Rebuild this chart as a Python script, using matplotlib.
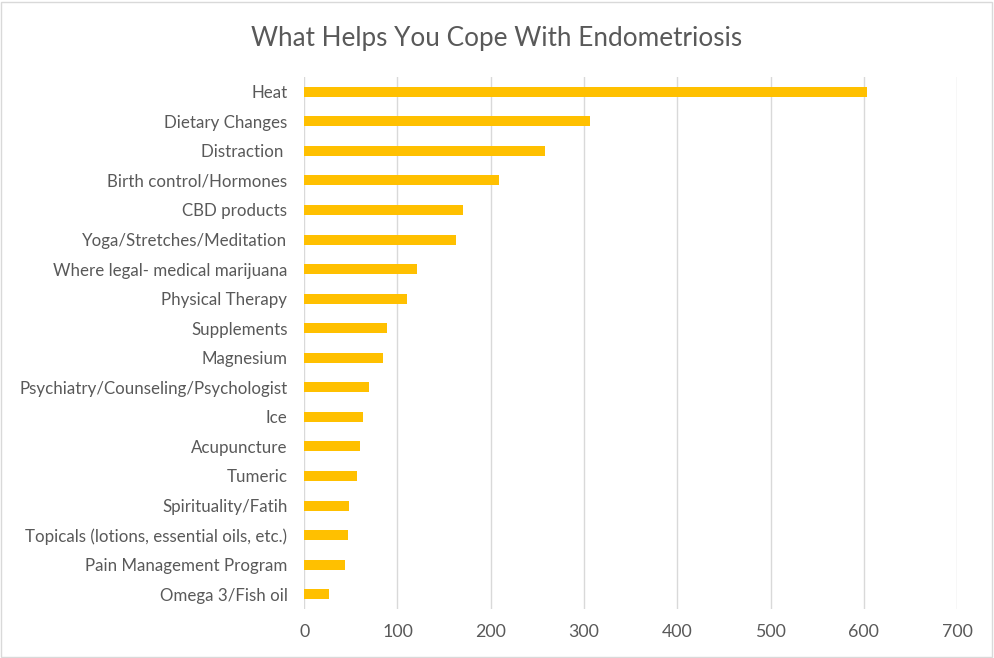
import matplotlib.pyplot as plt
from matplotlib.patches import Rectangle

categories = ['Heat', 'Dietary Changes', 'Distraction ', 'Birth control/Hormones',
              'CBD products', 'Yoga/Stretches/Meditation',
              'Where legal- medical marijuana', 'Physical Therapy', 'Supplements',
              'Magnesium', 'Psychiatry/Counseling/Psychologist', 'Ice',
              'Acupuncture', 'Tumeric', 'Spirituality/Fatih',
              'Topicals (lotions, essential oils, etc.)', 'Pain Management Program',
              'Omega 3/Fish oil']
counts = [603, 306, 258, 209, 170, 163, 121, 110, 89, 85, 69, 63, 60, 57, 48, 47, 44, 27]
xticks = [0, 100, 200, 300, 400, 500, 600, 700]

plt.rcParams['font.family'] = ['Lato', 'DejaVu Sans']
text_col = '#595959'
grid_col = '#d9d9d9'

fig = plt.figure(figsize=(9.94, 6.58), dpi=100)
ax = fig.add_axes([0.306, 0.0745, 0.657, 0.8085])

pos = list(range(len(categories)))[::-1]
ax.barh(pos, counts, height=0.34, color='#ffc000', zorder=3)

ax.set_xlim(0, 700)
ax.set_ylim(-0.5, len(categories) - 0.5)
ax.set_xticks(xticks)
ax.set_xticklabels([str(t) for t in xticks])
ax.set_yticks(pos)
ax.set_yticklabels(categories)
ax.tick_params(axis='both', length=0, colors=text_col, labelsize=12.2)
ax.tick_params(axis='y', pad=12)
ax.tick_params(axis='x', labelsize=12.8, pad=11)
ax.grid(axis='x', color=grid_col, linewidth=1, zorder=0)
for s in ax.spines.values():
    s.set_visible(False)

fig.text(0.5, 0.942, 'What Helps You Cope With Endometriosis', ha='center', va='center',
         fontsize=18.8, color=text_col)

fig.patches.append(Rectangle((0.001, 0.0015), 0.997, 0.996, transform=fig.transFigure,
                             fill=False, edgecolor=grid_col, linewidth=1))

fig.savefig('out.png', dpi=100)
